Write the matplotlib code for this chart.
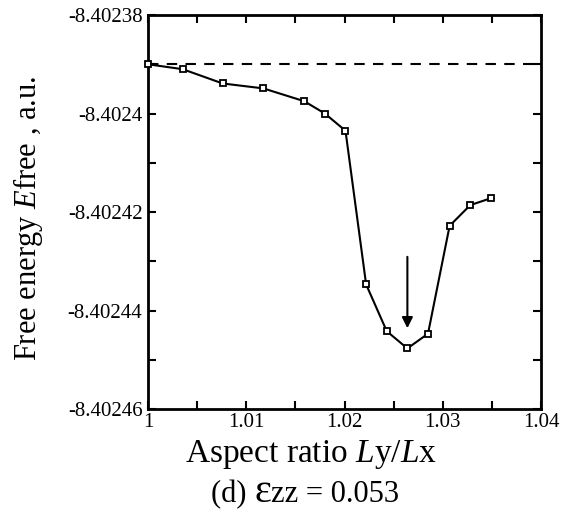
import matplotlib
matplotlib.use('Agg')
import matplotlib.pyplot as plt
from matplotlib.ticker import MultipleLocator, FuncFormatter

# data
ratio = [1.0, 1.00353, 1.0076, 1.01174, 1.0159, 1.0180, 1.0201,
         1.0222, 1.0243, 1.0264, 1.0285, 1.0307, 1.0328, 1.0349]
energy = [-8.40239, -8.402391, -8.4023939, -8.4023949, -8.4023975, -8.40240, -8.4024035,
          -8.4024347, -8.4024442, -8.4024477, -8.4024447, -8.4024228, -8.4024186, -8.4024172]
ref_energy = -8.40239
arrow_x = 1.0264
arrow_from = -8.4024291
arrow_to = -8.4024436
caption = ['(d) ', '\u03b5', 'zz = 0.053']

plt.rc('font', family='Liberation Serif')
matplotlib.rcParams['mathtext.fontset'] = 'custom'
matplotlib.rcParams['mathtext.rm'] = 'Liberation Serif'
matplotlib.rcParams['mathtext.it'] = 'Liberation Serif:italic'

fig = plt.figure(figsize=(5.65, 5.18), dpi=100)
ax = fig.add_axes([0.262, 0.2104, 0.6955, 0.7606])

ax.axhline(ref_energy, color='k', lw=1.5, ls=(0, (5, 4)))
ax.plot(ratio, energy, color='k', lw=1.5, marker='s', ms=5,
        mfc='w', mec='k', mew=1.3, clip_on=False, zorder=3)
ax.annotate('', xy=(arrow_x, arrow_to), xytext=(arrow_x, arrow_from),
            arrowprops=dict(arrowstyle='-|>', color='k', lw=1.5,
                            mutation_scale=16, shrinkA=0, shrinkB=0))

ax.set_xlim(1.0, 1.04)
ax.set_ylim(-8.40246, -8.40238)
ax.xaxis.set_major_locator(MultipleLocator(0.01))
ax.xaxis.set_minor_locator(MultipleLocator(0.005))
ax.yaxis.set_major_locator(MultipleLocator(0.00002))
ax.yaxis.set_minor_locator(MultipleLocator(0.00001))
ax.xaxis.set_major_formatter(FuncFormatter(lambda v, p: ('%.2f' % v).rstrip('0').rstrip('.')))
ax.yaxis.set_major_formatter(FuncFormatter(lambda v, p: ('%.5f' % v).rstrip('0')))

ax.tick_params(which='both', direction='in', top=True, right=True, width=1.5, labelsize=15)
ax.tick_params(which='major', length=6)
ax.tick_params(which='minor', length=6)
ax.tick_params(axis='x', pad=3)
ax.tick_params(axis='y', pad=4)
for s in ax.spines.values():
    s.set_linewidth(2)

ax.set_xlabel('Aspect ratio $L$y/$L$x', fontsize=24)
ax.xaxis.set_label_coords(0.415, -0.073, transform=ax.transAxes)
ax.xaxis.label.set_va('top')
ax.set_ylabel('Free energy $E$free , a.u.', fontsize=22)
ax.yaxis.set_label_coords(-0.263, 0.485)

# caption built piece by piece
fig.canvas.draw()
r = fig.canvas.get_renderer()
x = 211
y = 518 - 502
sizes = [22, 29, 22]
for txt, fs in zip(caption, sizes):
    t = fig.text(x, y, txt, fontsize=fs, ha='left', va='baseline', transform=None)
    x = t.get_window_extent(r).x1

fig.savefig('out.png', dpi=100)
